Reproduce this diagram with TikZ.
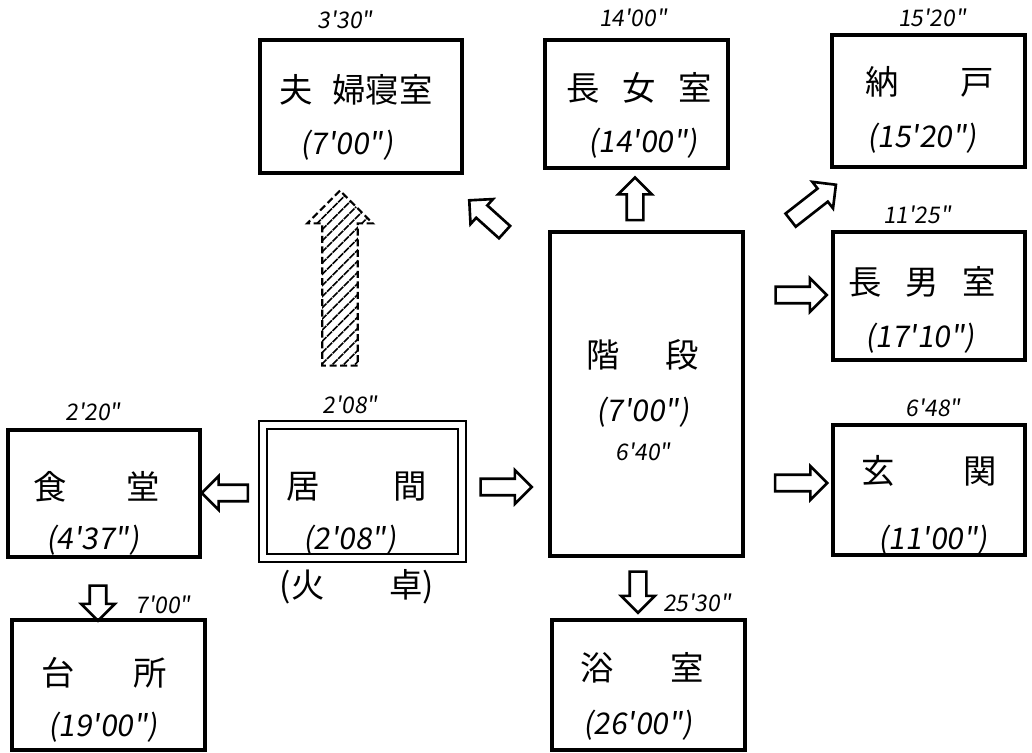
\documentclass[tikz,border=0pt]{standalone}
\usepackage{fontspec}
\newfontfamily\cjk{Noto Sans CJK JP}
\newfontfamily\hand[FakeSlant=0.15]{Noto Sans CJK JP}
\usetikzlibrary{positioning,shapes.arrows,patterns.meta}

\begin{document}
\begin{tikzpicture}[x=0.02cm, y=-0.02cm,
  room/.style={draw, line width=2pt, inner sep=0pt},
  roomname/.style={font=\cjk\fontsize{19}{22}\selectfont, inner sep=0pt},
  area/.style={font=\hand\fontsize{17}{20}\selectfont, inner sep=0pt},
  stamp/.style={font=\hand\fontsize{13}{15}\selectfont, inner sep=0pt},
  move/.style={single arrow, draw, line width=1.5pt, inner sep=0pt, inner ysep=0.14cm,
    single arrow head extend=0.17cm, minimum height=#1},
  move/.default=1cm,
  hatcharrow/.style={single arrow, draw, line width=1.2pt, dash pattern=on 4pt off 2pt,
    inner sep=0pt, inner ysep=0.34cm, single arrow head extend=0.3cm,
    minimum height=3.5cm, pattern={Lines[angle=45,distance=4.5pt,line width=0.9pt]}}
]
\useasboundingbox (0,0) rectangle (1032,753);

% rooms
\node[room, minimum width=4.04cm, minimum height=2.66cm] (fufu) at (361,106.5) {};
\node[room, minimum width=3.66cm, minimum height=2.56cm] (chojo) at (636.5,104) {};
\node[room, minimum width=3.86cm, minimum height=2.64cm] (nando) at (928.5,101) {};
\node[room, minimum width=3.84cm, minimum height=2.56cm] (chonan) at (929,296) {};
\node[room, minimum width=3.84cm, minimum height=2.6cm] (genkan) at (929,490) {};
\node[room, minimum width=3.86cm, minimum height=6.48cm] (kaidan) at (646.5,394) {};
\node[room, line width=1.3pt, double, double distance=3pt,
  minimum width=3.98cm, minimum height=2.66cm] (ima) at (362.5,491.5) {};
\node[room, minimum width=3.84cm, minimum height=2.54cm] (shokudo) at (104,493.5) {};
\node[room, minimum width=3.86cm, minimum height=2.6cm] (daidokoro) at (108.5,685) {};
\node[room, minimum width=3.86cm, minimum height=2.6cm] (yokushitsu) at (648.5,685) {};

% names
\node[roomname] (fufu-n) at (356,90) {夫\hspace{0.4cm}婦寝室};
\node[roomname] (chojo-n) at (639,88) {長\hspace{0.45cm}女\hspace{0.45cm}室};
\node[roomname] (nando-n) at (930,82) {納\hspace{1.23cm}戸};
\node[roomname] (chonan-n) at (922,282) {長\hspace{0.47cm}男\hspace{0.47cm}室};
\node[roomname] (genkan-n) at (929,471) {玄\hspace{1.37cm}関};
\node[roomname] (kaidan-n) at (643,355) {階\hspace{0.91cm}段};
\node[roomname] (ima-n) at (357,487) {居\hspace{1.47cm}間};
\node[roomname] (shokudo-n) at (97,487) {食\hspace{1.19cm}堂};
\node[roomname] (daidokoro-n) at (104,673) {台\hspace{1.17cm}所};
\node[roomname] (yokushitsu-n) at (642,668) {浴\hspace{1.13cm}室};
\node[roomname] (kotatsu) at (357,587) {(火\hspace{1.3cm}卓)};

% areas
\node[area] at (347,145) {(7'00")};
\node[area] at (643,143) {(14'00")};
\node[area] at (922,138) {(15'20")};
\node[area] at (920,338) {(17'10")};
\node[area] at (933,540) {(11'00")};
\node[area] at (643,412) {(7'00")};
\node[stamp] at (643,452) {6'40"};
\node[area] at (350,540) {(2'08")};
\node[area] at (93,540) {(4'37")};
\node[area] at (103,727) {(19'00")};
\node[area] at (638,725) {(26'00")};

% stamps
\node[stamp] at (345,20) {3'30"};
\node[stamp] at (633,18) {14'00"};
\node[stamp] at (932,18) {15'20"};
\node[stamp] at (917,215) {11'25"};
\node[stamp] at (933,408) {6'48"};
\node[stamp] at (350,405) {2'08"};
\node[stamp] at (93,412) {2'20"};
\node[stamp] at (163,605) {7'00"};
\node[stamp] at (697,603) {25'30"};

% moves
\node[hatcharrow, rotate=90] (up-fufu) at (340,287) {};
\node[move=0.95cm, rotate=138] (to-fufu) at (490,219) {};
\node[move=0.85cm, rotate=90] (to-chojo) at (635,203) {};
\node[move=1.15cm, rotate=38] (to-nando) at (810,205) {};
\node[move=1.02cm] (to-chonan) at (797,295) {};
\node[move=1.04cm] (to-genkan) at (797,483) {};
\node[move=1.02cm] (to-kaidan) at (502,487) {};
\node[move=0.92cm, rotate=180] (to-shokudo) at (229,493) {};
\node[move=0.7cm, rotate=-90] (to-daidokoro) at (98,599) {};
\node[move=0.82cm, rotate=-90] (to-yokushitsu) at (638,588) {};
\end{tikzpicture}
\end{document}
